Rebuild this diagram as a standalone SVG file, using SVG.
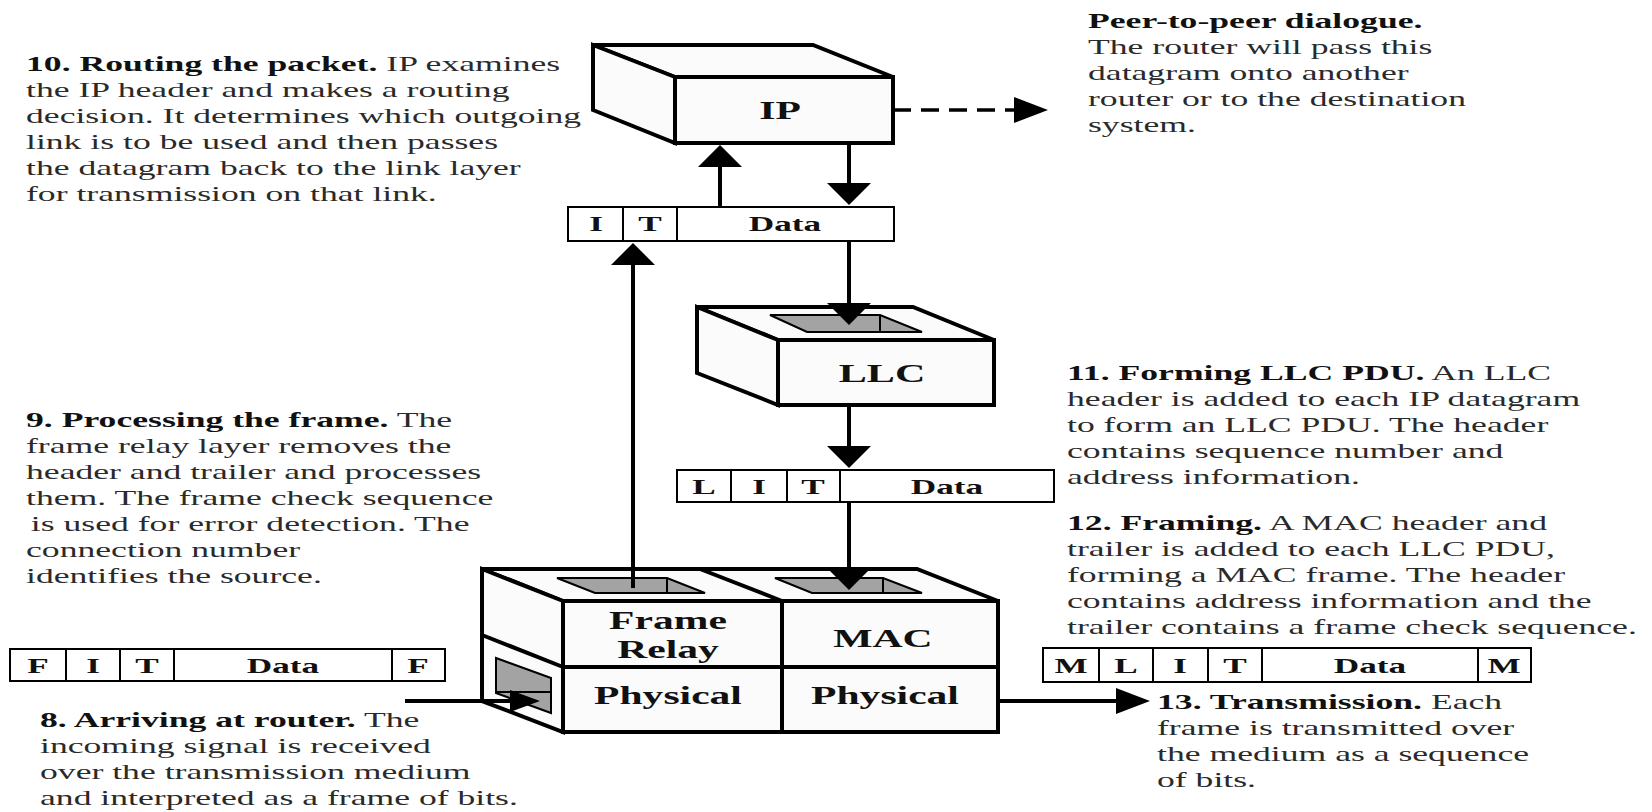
<svg xmlns="http://www.w3.org/2000/svg" width="1652" height="812" viewBox="0 0 1652 812">
<style>
.face{fill:#fbfbfb;stroke:#000;stroke-width:4;stroke-linejoin:miter}
.div{fill:none;stroke:#000;stroke-width:4}
.slot{fill:#a3a3a3;stroke:#000;stroke-width:2;stroke-linejoin:miter}
.thin{fill:none;stroke:#000;stroke-width:2}
.cellbox{fill:#fff;stroke:#000;stroke-width:2}
.conn{fill:none;stroke:#000;stroke-width:4}
.dash{stroke-dasharray:18 10;stroke-width:3.5}
.t{font-family:"Liberation Serif","Times New Roman",serif;font-size:22px;fill:#2a2a2a}
.b{font-weight:bold;fill:#111}
.lbl{font-family:"Liberation Serif","Times New Roman",serif;font-size:26px;font-weight:bold;fill:#111;text-anchor:middle}
.cell{font-family:"Liberation Serif","Times New Roman",serif;font-size:22px;font-weight:bold;fill:#111;text-anchor:middle}
</style>
<defs>
<marker id="ahV" markerUnits="userSpaceOnUse" viewBox="0 0 22 44" refX="2" refY="22" markerWidth="22" markerHeight="44" orient="auto"><path d="M0,0 L22,22 L0,44 z" fill="#000"/></marker>
<marker id="ahH" markerUnits="userSpaceOnUse" viewBox="0 0 34 26" refX="2" refY="13" markerWidth="34" markerHeight="26" orient="auto"><path d="M0,0 L34,13 L0,26 z" fill="#000"/></marker>
<marker id="ahS" markerUnits="userSpaceOnUse" viewBox="0 0 30 22" refX="2" refY="11" markerWidth="30" markerHeight="22" orient="auto"><path d="M0,0 L30,11 L0,22 z" fill="#000"/></marker>
</defs>

<g id="node-ip">
<polygon class="face" points="593,45 813,45 893,77 675,77"/>
<polygon class="face" points="593,45 675,77 675,143 593,110"/>
<rect class="face" x="675" y="77" width="218" height="66"/>
<text class="lbl" transform="translate(780,119) scale(1.6,1)">IP</text>
</g>

<g id="node-llc">
<polygon class="face" points="697,307 913,307 994,340 778,340"/>
<polygon class="face" points="697,307 778,340 778,405 697,373"/>
<rect class="face" x="778" y="340" width="216" height="65"/>
<polygon class="slot" points="770,315 880,315 922,332 807,332"/>
<line class="thin" x1="880" y1="315" x2="880" y2="332"/>
<text class="lbl" transform="translate(882,382) scale(1.62,1)">LLC</text>
</g>

<g id="node-router-stack">
<polygon class="face" points="482,569 917,569 998,601 563,601"/>
<polygon class="face" points="482,569 563,601 563,732 482,701"/>
<rect class="face" x="563" y="601" width="435" height="131"/>
<line class="div" x1="700" y1="569" x2="782" y2="601"/>
<line class="div" x1="782" y1="601" x2="782" y2="732"/>
<line class="div" x1="563" y1="667" x2="998" y2="667"/>
<line class="div" x1="482" y1="635" x2="563" y2="667"/>
<polygon class="slot" points="557,578 667,578 705,593 595,593"/>
<line class="thin" x1="667" y1="578" x2="667" y2="593"/>
<polygon class="slot" points="775,578 883,578 922,593 812,593"/>
<line class="thin" x1="883" y1="578" x2="883" y2="593"/>
<polygon class="slot" points="496,658 551,678 551,713 496,693"/>
<line class="thin" x1="496" y1="692" x2="551" y2="692"/>
<text class="lbl" transform="translate(668,629) scale(1.6,1)">Frame</text>
<text class="lbl" transform="translate(668,658) scale(1.6,1)">Relay</text>
<text class="lbl" transform="translate(883,647) scale(1.6,1)">MAC</text>
<text class="lbl" transform="translate(668,704) scale(1.6,1)">Physical</text>
<text class="lbl" transform="translate(885,704) scale(1.6,1)">Physical</text>
</g>

<g id="pdu-ip">
<rect class="cellbox" x="568" y="207" width="326" height="34"/>
<line class="thin" x1="623" y1="207" x2="623" y2="241"/>
<line class="thin" x1="677" y1="207" x2="677" y2="241"/>
<text class="cell" transform="translate(596,231) scale(1.6,1)">I</text>
<text class="cell" transform="translate(650,231) scale(1.6,1)">T</text>
<text class="cell" transform="translate(785,231) scale(1.6,1)">Data</text>
</g>

<g id="pdu-llc">
<rect class="cellbox" x="677" y="470" width="377" height="32"/>
<line class="thin" x1="731" y1="470" x2="731" y2="502"/>
<line class="thin" x1="787" y1="470" x2="787" y2="502"/>
<line class="thin" x1="840" y1="470" x2="840" y2="502"/>
<text class="cell" transform="translate(704,494) scale(1.6,1)">L</text>
<text class="cell" transform="translate(759,494) scale(1.6,1)">I</text>
<text class="cell" transform="translate(813,494) scale(1.6,1)">T</text>
<text class="cell" transform="translate(947,494) scale(1.6,1)">Data</text>
</g>

<g id="frame-in">
<rect class="cellbox" x="10" y="649" width="435" height="32"/>
<line class="thin" x1="66" y1="649" x2="66" y2="681"/>
<line class="thin" x1="120" y1="649" x2="120" y2="681"/>
<line class="thin" x1="174" y1="649" x2="174" y2="681"/>
<line class="thin" x1="392" y1="649" x2="392" y2="681"/>
<text class="cell" transform="translate(38,673) scale(1.6,1)">F</text>
<text class="cell" transform="translate(93,673) scale(1.6,1)">I</text>
<text class="cell" transform="translate(147,673) scale(1.6,1)">T</text>
<text class="cell" transform="translate(283,673) scale(1.6,1)">Data</text>
<text class="cell" transform="translate(418,673) scale(1.6,1)">F</text>
</g>

<g id="frame-out">
<rect class="cellbox" x="1043" y="648" width="488" height="34"/>
<line class="thin" x1="1099" y1="648" x2="1099" y2="682"/>
<line class="thin" x1="1153" y1="648" x2="1153" y2="682"/>
<line class="thin" x1="1208" y1="648" x2="1208" y2="682"/>
<line class="thin" x1="1262" y1="648" x2="1262" y2="682"/>
<line class="thin" x1="1478" y1="648" x2="1478" y2="682"/>
<text class="cell" transform="translate(1071,673) scale(1.6,1)">M</text>
<text class="cell" transform="translate(1126,673) scale(1.6,1)">L</text>
<text class="cell" transform="translate(1180,673) scale(1.6,1)">I</text>
<text class="cell" transform="translate(1235,673) scale(1.6,1)">T</text>
<text class="cell" transform="translate(1370,673) scale(1.6,1)">Data</text>
<text class="cell" transform="translate(1504,673) scale(1.6,1)">M</text>
</g>

<g id="connectors">
<path class="conn" d="M849,143 V185" marker-end="url(#ahV)"/>
<path class="conn" d="M720,207 V165" marker-end="url(#ahV)"/>
<path class="conn" d="M849,241 V305" marker-end="url(#ahV)"/>
<path class="conn" d="M849,405 V448" marker-end="url(#ahV)"/>
<path class="conn" d="M849,502 V570" marker-end="url(#ahV)"/>
<path class="conn" d="M633,588 V263" marker-end="url(#ahV)"/>
<path class="conn dash" d="M893,110 H1016" marker-end="url(#ahH)"/>
<path class="conn" d="M405,701 H512" marker-end="url(#ahS)"/>
<path class="conn" d="M998,701 H1118" marker-end="url(#ahH)"/>
</g>

<g id="note-peer">
<text class="t" transform="translate(1088,0) scale(1.62,1)"><tspan x="0" y="28" class="b">Peer-to-peer dialogue.</tspan><tspan x="0" y="54">The router will pass this</tspan><tspan x="0" y="80">datagram onto another</tspan><tspan x="0" y="106">router or to the destination</tspan><tspan x="0" y="132">system.</tspan></text>
</g>

<g id="note-10">
<text class="t" transform="translate(26,0) scale(1.62,1)"><tspan x="0" y="71"><tspan class="b">10. Routing the packet.</tspan> IP examines</tspan><tspan x="0" y="97">the IP header and makes a routing</tspan><tspan x="0" y="123">decision. It determines which outgoing</tspan><tspan x="0" y="149">link is to be used and then passes</tspan><tspan x="0" y="175">the datagram back to the link layer</tspan><tspan x="0" y="201">for transmission on that link.</tspan></text>
</g>

<g id="note-9">
<text class="t" transform="translate(26,0) scale(1.62,1)"><tspan x="0" y="427"><tspan class="b">9. Processing the frame.</tspan> The</tspan><tspan x="0" y="453">frame relay layer removes the</tspan><tspan x="0" y="479">header and trailer and processes</tspan><tspan x="0" y="505">them. The frame check sequence</tspan><tspan x="3" y="531">is used for error detection. The</tspan><tspan x="0" y="557">connection number</tspan><tspan x="0" y="583">identifies the source.</tspan></text>
</g>

<g id="note-11">
<text class="t" transform="translate(1067,0) scale(1.62,1)"><tspan x="0" y="380"><tspan class="b">11. Forming LLC PDU.</tspan> An LLC</tspan><tspan x="0" y="406">header is added to each IP datagram</tspan><tspan x="0" y="432">to form an LLC PDU. The header</tspan><tspan x="0" y="458">contains sequence number and</tspan><tspan x="0" y="484">address information.</tspan></text>
</g>

<g id="note-12">
<text class="t" transform="translate(1067,0) scale(1.62,1)"><tspan x="0" y="530"><tspan class="b">12. Framing.</tspan> A MAC header and</tspan><tspan x="0" y="556">trailer is added to each LLC PDU,</tspan><tspan x="0" y="582">forming a MAC frame. The header</tspan><tspan x="0" y="608">contains address information and the</tspan><tspan x="0" y="634">trailer contains a frame check sequence.</tspan></text>
</g>

<g id="note-13">
<text class="t" transform="translate(1157,0) scale(1.62,1)"><tspan x="0" y="709"><tspan class="b">13. Transmission.</tspan> Each</tspan><tspan x="0" y="735">frame is transmitted over</tspan><tspan x="0" y="761">the medium as a sequence</tspan><tspan x="0" y="787">of bits.</tspan></text>
</g>

<g id="note-8">
<text class="t" transform="translate(40,0) scale(1.62,1)"><tspan x="0" y="727"><tspan class="b">8. Arriving at router.</tspan> The</tspan><tspan x="0" y="753">incoming signal is received</tspan><tspan x="0" y="779">over the transmission medium</tspan><tspan x="0" y="805">and interpreted as a frame of bits.</tspan></text>
</g>
</svg>
